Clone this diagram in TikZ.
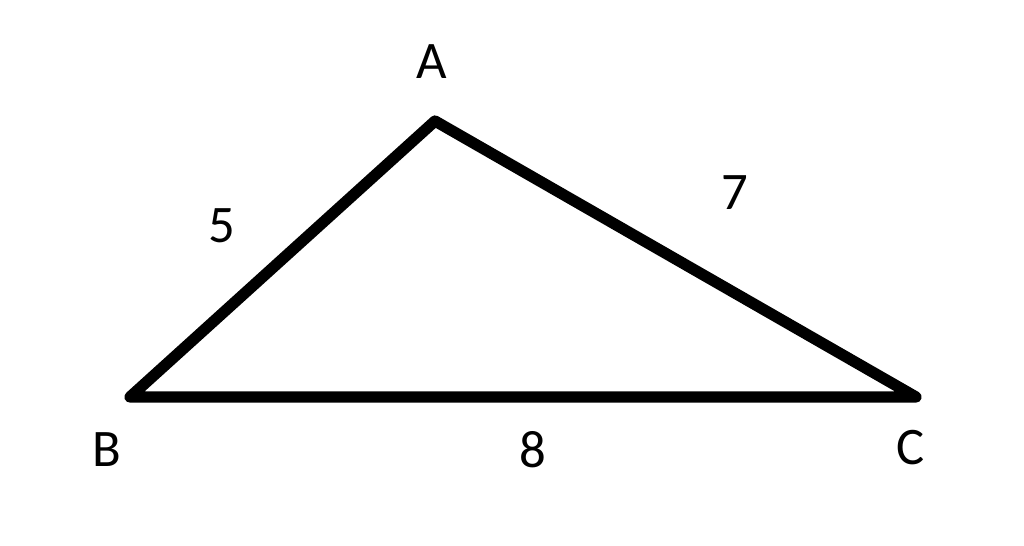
\documentclass[tikz,border=0pt]{standalone}
\usepackage{fontspec}
\setmainfont{Carlito}
\usetikzlibrary{positioning}
\tikzset{vtx/.style={draw=none, inner sep=0pt, font=\fontsize{15}{15}\selectfont}}
\tikzset{len/.style={draw=none, inner sep=0pt, font=\fontsize{15}{15}\selectfont}}
\tikzset{side/.style={black, line width=3.2pt, line join=round}}

\begin{document}
\begin{tikzpicture}[x=0.01cm,y=0.01cm]
\useasboundingbox (0,0) rectangle (1024,545);

\coordinate (A) at (435,424);
\coordinate (B) at (130,148);
\coordinate (C) at (916,148);

\node[vtx](la) at (432,483) {A};
\node[vtx](lb) at (107,95) {B};
\node[vtx](lc) at (911,97) {C};

\draw[side] (A) -- (B) -- (C) -- cycle;

\node[len](lab) at (222,319) {5};
\node[len](lac) at (735,352) {7};
\node[len](lbc) at (533,95) {8};
\end{tikzpicture}
\end{document}
